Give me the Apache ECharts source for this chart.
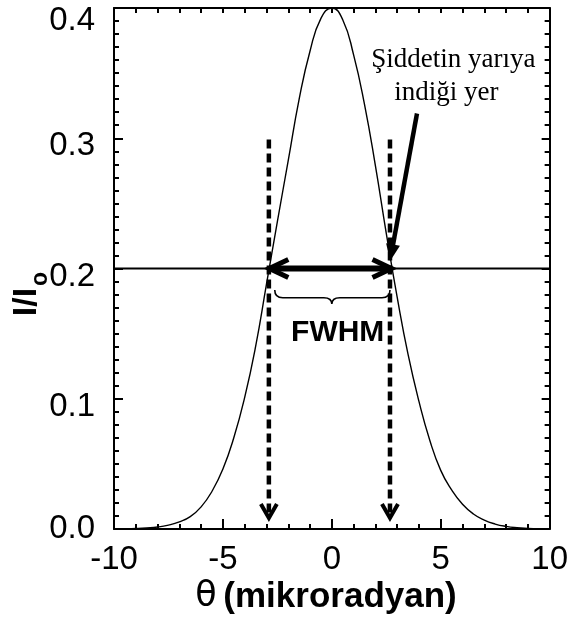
<!DOCTYPE html>
<html>
<head>
<meta charset="utf-8">
<script src="https://cdn.jsdelivr.net/npm/echarts@6/dist/echarts.min.js"></script>
<style>
  html, body { margin: 0; padding: 0; background: #fff; }
  #main { width: 571px; height: 623px; }
</style>
</head>
<body>
<div id="main"></div>
<script>
  // theta (mikroradyan) and I/Io
  const theta = [-10, -9.5, -9, -8.5, -8, -7.5, -7, -6.5, -6, -5.5, -5, -4.5, -4, -3.5, -3, -2.5, -2, -1.5, -1, -0.5,
    0, 0.5, 1, 1.5, 2, 2.5, 3, 3.5, 4, 4.5, 5, 5.5, 6, 6.5, 7, 7.5, 8, 8.5, 9, 9.5, 10];
  const intensity = [0.0001, 0.0002, 0.0004, 0.0008, 0.0015, 0.003, 0.0055, 0.0095, 0.017, 0.029, 0.046, 0.070, 0.101, 0.140, 0.188, 0.236, 0.283, 0.330, 0.367, 0.392,
    0.400, 0.391, 0.364, 0.326, 0.279, 0.227, 0.178, 0.134, 0.098, 0.068, 0.045, 0.030, 0.019, 0.0115, 0.0068, 0.0038, 0.002, 0.001, 0.0005, 0.0002, 0.0001];

  const halfMax = 0.2;
  const halfLineX = [-10, 10];
  const dashX = [-2.89, 2.67];          // dikey kesikli oklar
  const dashY = [0.299, 0.0085];
  const fwhmArrowX = [-2.87, 2.74];     // cift yonlu ok
  const braceX = [-2.62, 0, 2.67];
  const braceY = [0.1835, 0.1776, 0.1727];
  const fwhmText = 'FWHM';
  const fwhmTextPos = [0.27, 0.151];
  const pointerFrom = [3.91, 0.319];
  const pointerTo = [2.67, 0.2055];
  const noteLines = ['Şiddetin yarıya', 'indiği yer'];
  const notePos = [[5.58, 0.360], [5.26, 0.335]];

  const curveData = theta.map((t, i) => [t, intensity[i]]);
  const halfLineData = halfLineX.map(x => [x, halfMax]);

  function chevron(tip, dx, dy, len, half, w) {
    const nx = -dy, ny = dx;
    return {
      type: 'polyline',
      shape: { points: [
        [tip[0] - len * dx + half * nx, tip[1] - len * dy + half * ny],
        [tip[0], tip[1]],
        [tip[0] - len * dx - half * nx, tip[1] - len * dy - half * ny]
      ] },
      style: { stroke: '#000', fill: 'none', lineWidth: w, lineJoin: 'miter', lineCap: 'butt' }
    };
  }

  function renderNotes(params, api) {
    const c = p => api.coord(p);
    const kids = [];
    // kesikli dikey oklar
    dashX.forEach(x => {
      const top = c([x, dashY[0]]);
      const bot = c([x, dashY[1]]);
      kids.push({ type: 'line', shape: { x1: top[0], y1: top[1], x2: bot[0], y2: bot[1] - 4 },
        style: { stroke: '#000', lineWidth: 4.5, lineDash: [9, 5] } });
      kids.push(chevron(bot, 0, 1, 14, 8, 4));
    });
    // FWHM oku
    const l = c([fwhmArrowX[0], halfMax]);
    const r = c([fwhmArrowX[1], halfMax]);
    kids.push({ type: 'line', shape: { x1: l[0] + 4, y1: l[1], x2: r[0] - 4, y2: r[1] },
      style: { stroke: '#000', lineWidth: 6 } });
    kids.push(chevron(l, -1, 0, 19, 9, 5));
    kids.push(chevron(r, 1, 0, 19, 9, 5));
    // kume parantezi
    const xl = c([braceX[0], braceY[0]])[0], xc = c([braceX[1], braceY[0]])[0], xr = c([braceX[2], braceY[0]])[0];
    const yT = c([0, braceY[0]])[1], yM = c([0, braceY[1]])[1], yB = c([0, braceY[2]])[1];
    const rr = 8;
    kids.push({ type: 'path', shape: { pathData:
        'M' + xl + ' ' + yT + ' Q' + xl + ' ' + yM + ' ' + (xl + rr) + ' ' + yM +
        ' L' + (xc - rr) + ' ' + yM + ' Q' + xc + ' ' + yM + ' ' + xc + ' ' + yB +
        ' Q' + xc + ' ' + yM + ' ' + (xc + rr) + ' ' + yM +
        ' L' + (xr - rr) + ' ' + yM + ' Q' + xr + ' ' + yM + ' ' + xr + ' ' + yT },
      style: { stroke: '#000', fill: 'none', lineWidth: 1.6 } });
    // FWHM yazisi
    const ft = c(fwhmTextPos);
    kids.push({ type: 'text', x: ft[0], y: ft[1], style: { text: fwhmText, fill: '#000',
      font: 'bold 30px "Liberation Sans", Arial, sans-serif', align: 'center', verticalAlign: 'middle' } });
    // gosterge oku
    const a = c(pointerFrom), b = c(pointerTo);
    const len = Math.hypot(b[0] - a[0], b[1] - a[1]);
    const dx = (b[0] - a[0]) / len, dy = (b[1] - a[1]) / len;
    const hl = 17, hw = 7;
    kids.push({ type: 'line', shape: { x1: a[0], y1: a[1], x2: b[0] - dx * (hl - 2), y2: b[1] - dy * (hl - 2) },
      style: { stroke: '#000', lineWidth: 4.5 } });
    kids.push({ type: 'polygon', shape: { points: [
      [b[0], b[1]],
      [b[0] - dx * hl - dy * hw, b[1] - dy * hl + dx * hw],
      [b[0] - dx * hl + dy * hw, b[1] - dy * hl - dx * hw]
    ] }, style: { fill: '#000' } });
    // aciklama
    noteLines.forEach((s, i) => {
      const p = c(notePos[i]);
      kids.push({ type: 'text', x: p[0], y: p[1], style: { text: s, fill: '#000',
        font: '27px "Liberation Serif", "Times New Roman", serif', align: 'center', verticalAlign: 'middle' } });
    });
    return { type: 'group', children: kids };
  }

  const chart = echarts.init(document.getElementById('main'), null, { renderer: 'canvas' });
  const axisFont = '"Liberation Sans", Arial, sans-serif';
  const frame = { onZero: false, lineStyle: { color: '#000', width: 2 } };
  const option = {
    animation: false,
    backgroundColor: '#fff',
    grid: { left: 114, right: 16, top: 8, bottom: 94 },
    xAxis: [{
      type: 'value', min: -10, max: 10, interval: 5,
      axisLine: frame,
      axisTick: { inside: true, length: 10, lineStyle: { color: '#000', width: 2 } },
      minorTick: { show: true, splitNumber: 5, length: 5, lineStyle: { color: '#000', width: 2 } },
      splitLine: { show: false },
      axisLabel: { color: '#000', fontSize: 33, fontFamily: axisFont, margin: 14 }
    }, {
      type: 'value', position: 'top', min: -10, max: 10, interval: 1,
      axisLine: frame,
      axisTick: { inside: true, length: 5, lineStyle: { color: '#000', width: 2 } },
      splitLine: { show: false },
      axisLabel: { show: false }
    }],
    yAxis: [{
      type: 'value', min: 0, max: 0.4, interval: 0.1,
      axisLine: Object.assign({ show: true }, frame),
      axisTick: { show: true, inside: true, length: 9, lineStyle: { color: '#000', width: 2 } },
      minorTick: { show: true, splitNumber: 10, length: 5, lineStyle: { color: '#000', width: 2 } },
      splitLine: { show: false },
      axisLabel: {
        margin: 19,
        formatter: v => (v === 0 ? '{z|0.0}' : v > 0.35 ? '{t|0.4}' : '{n|' + v.toFixed(1) + '}'),
        rich: {
          z: { color: '#000', fontSize: 33, fontFamily: axisFont },
          n: { color: '#000', fontSize: 33, fontFamily: axisFont, padding: [16, 0, 0, 0] },
          t: { color: '#000', fontSize: 33, fontFamily: axisFont, padding: [26, 0, 0, 0] }
        }
      }
    }, {
      type: 'value', position: 'right', min: 0, max: 0.4, interval: 0.1,
      axisLine: Object.assign({ show: true }, frame),
      axisTick: { show: true, inside: true, length: 8, lineStyle: { color: '#000', width: 2 } },
      minorTick: { show: true, splitNumber: 10, length: 5, lineStyle: { color: '#000', width: 2 } },
      splitLine: { show: false },
      axisLabel: { show: false }
    }],
    graphic: [
      { type: 'text', x: 27, y: 302, rotation: Math.PI / 2,
        style: { text: 'I/I', font: 'bold 34px ' + axisFont, fill: '#000', align: 'center', verticalAlign: 'middle' } },
      { type: 'text', x: 41, y: 279, rotation: Math.PI / 2,
        style: { text: 'o', font: 'bold 23px ' + axisFont, fill: '#000', align: 'center', verticalAlign: 'middle' } },
      { type: 'text', x: 326, y: 597,
        style: { text: '{t|θ}  {b|(mikroradyan)}', align: 'center', verticalAlign: 'middle',
          rich: {
            t: { font: '35px "DejaVu Sans", sans-serif', fill: '#000' },
            b: { font: 'bold 35px ' + axisFont, fill: '#000' }
          } } }
    ],
    series: [{
      type: 'line', data: curveData, smooth: 0.5, showSymbol: false, silent: true,
      lineStyle: { color: '#000', width: 1.4 }, z: 3
    }, {
      type: 'line', data: halfLineData, showSymbol: false, silent: true,
      lineStyle: { color: '#000', width: 2 }, z: 2
    }, {
      type: 'custom', data: [[0, 0]], renderItem: renderNotes, silent: true, z: 5
    }]
  };
  chart.setOption(option);
</script>
</body>
</html>
